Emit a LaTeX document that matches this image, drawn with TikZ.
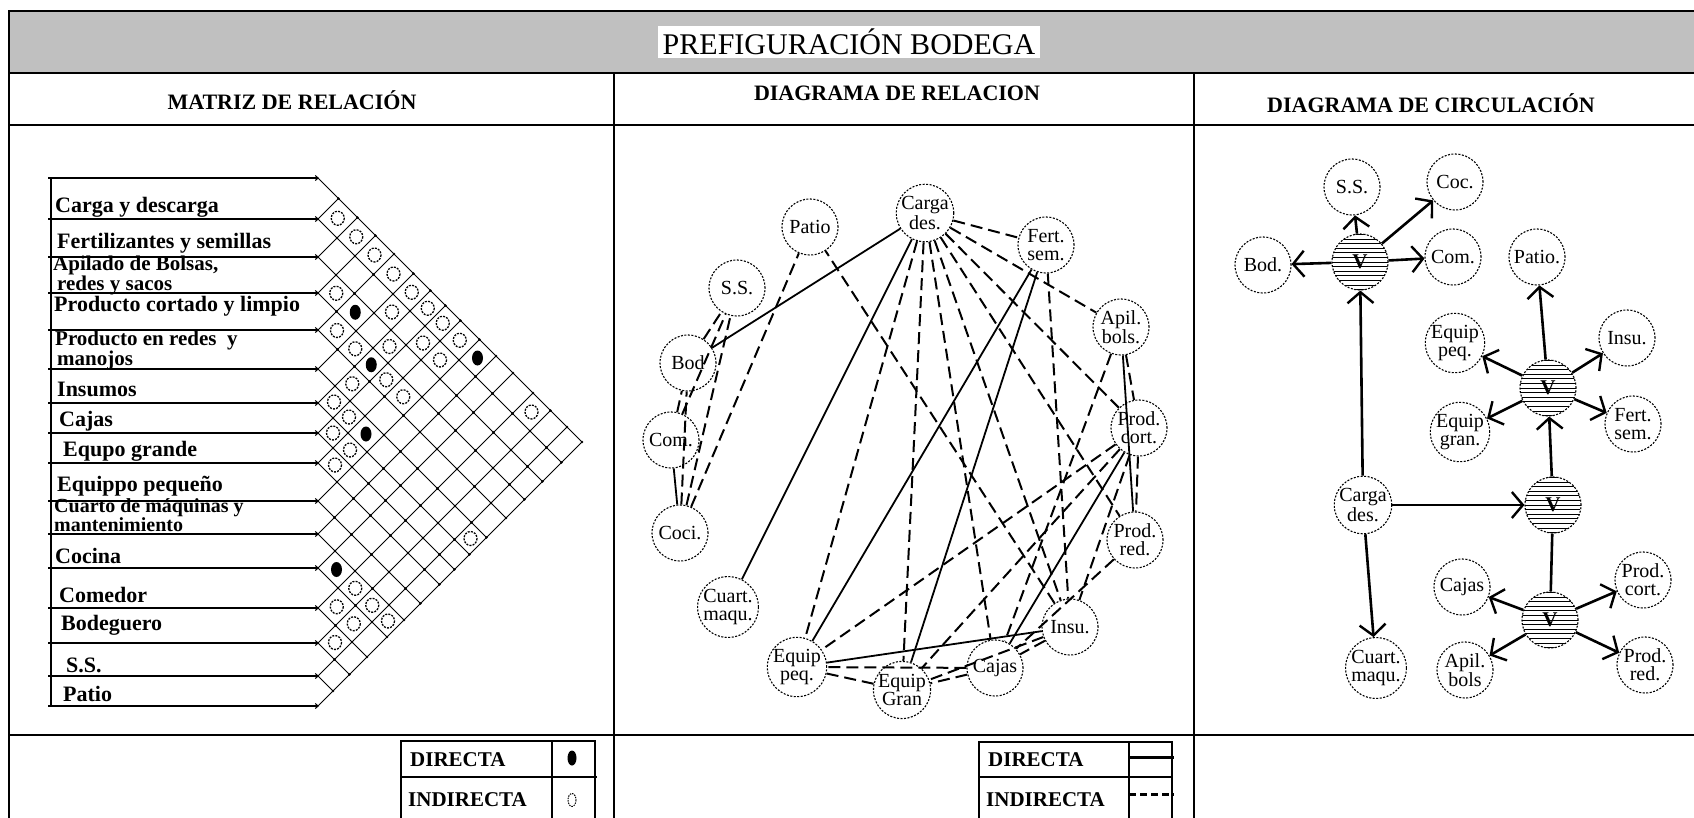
\documentclass[tikz,border=0pt]{standalone}
\usepackage{fontspec}
\setmainfont{Liberation Serif}
\usetikzlibrary{arrows.meta}
\definecolor{band}{RGB}{192,192,192}
\begin{document}
\begin{tikzpicture}[x=1pt,y=-1pt,
  frame/.style={line width=2.5pt},
  rnode/.style={circle,draw,line width=1.1pt,dash pattern=on 2pt off 1.5pt,minimum size=56pt,inner sep=0pt,align=center,font=\fontsize{20}{18}\selectfont},
  vnode/.style={circle,draw,line width=1.1pt,dash pattern=on 2pt off 1.5pt,minimum size=56pt,inner sep=0pt,font=\bfseries\fontsize{21}{21}\selectfont,
    path picture={\foreach \k in {-6,...,6}{\draw[solid,line width=0.7pt] ([yshift=\k*4.6pt]path picture bounding box.west) -- ([yshift=\k*4.6pt]path picture bounding box.east);}}},
  indir/.style={line width=2pt,dash pattern=on 12pt off 6pt},
  dir/.style={line width=1.8pt},
  flow/.style={line width=2.6pt,-{Straight Barb[length=11pt,width=26pt,line width=2.4pt]}},
  plain/.style={line width=2.6pt},
  lbl/.style={anchor=west,inner sep=0pt,font=\bfseries\fontsize{22}{17}\selectfont,text height=15pt,text depth=4pt},
  lbl2/.style={anchor=west,inner sep=0pt,align=left,font=\bfseries\fontsize{21}{16.5}\selectfont},
  head/.style={font=\bfseries\fontsize{22}{22}\selectfont,inner sep=0pt},
  leg/.style={anchor=west,inner sep=0pt,font=\bfseries\fontsize{21}{21}\selectfont},
]
\useasboundingbox (0,0) rectangle (1694,817);
% ---------- frame ----------
\fill[band] (9,11) rectangle (1694,73);
\draw[frame] (8,11) -- (1694,11);
\draw[frame] (8,73) -- (1694,73);
\draw[frame] (8,125) -- (1694,125);
\draw[frame] (8,735) -- (1694,735);
\draw[frame] (9,10) -- (9,830);
\draw[frame] (614,73) -- (614,830);
\draw[frame] (1194,73) -- (1194,830);
\node[fill=white,inner xsep=5pt,minimum height=30pt,font=\fontsize{30}{30}\selectfont] (title) at (849,42) {PREFIGURACIÓN BODEGA};
\node[head] (h1) at (292,100) {MATRIZ DE RELACIÓN};
\node[head] (h2) at (897,93) {DIAGRAMA DE RELACION};
\node[head] (h3) at (1431,103) {DIAGRAMA DE CIRCULACIÓN};

% ---------- matrix ----------
\def\Ll{{178,219,257,293,330,369,403,433,463,501,534,568,608,643,676,706}}
\def\Mm{{198.5,238,275,311.5,349.5,386,418,448,482,517.5,551,588,625.5,659.5,691}}
\draw[line width=1.4pt] (51,178) -- (51,706);
\foreach \k in {0,...,15}{
  \pgfmathsetmacro\yk{\Ll[\k]}
  \draw[line width=1.3pt,-{Straight Barb[length=3pt,width=5pt,line width=1pt]}] (48,\yk) -- (319,\yk);
  \draw[line width=0.8pt] (318,\yk) -- ({318+(706-\yk)/2},{(\yk+706)/2});
  \draw[line width=0.8pt] (318,\yk) -- ({318+(\yk-178)/2},{(\yk+178)/2});
}
\foreach \a in {0,...,14}{
  \pgfmathtruncatemacro\aa{\a+1}
  \foreach \b in {\aa,...,15}{
    \pgfmathsetmacro\ya{\Ll[\a]}
    \pgfmathsetmacro\yb{\Ll[\b]}
    \fill ({318+(\yb-\ya)/2},{(\ya+\yb)/2}) circle (1.4);
  }
}
\foreach \i/\j in {1/2,1/3,1/4,1/5,1/6,1/7,1/8,1/9,1/13,2/6,2/8,2/9,3/4,3/7,4/5,4/6,4/8,4/9,5/7,6/7,6/8,6/15,7/8,7/9,8/9,11/13,11/14,11/15,12/13,12/14,13/14}{
  \pgfmathtruncatemacro\ii{\i-1}
  \pgfmathtruncatemacro\jj{\j-1}
  \pgfmathsetmacro\mi{\Mm[\ii]}
  \pgfmathsetmacro\mj{\Mm[\jj]}
  \fill[white] ({318+(\mj-\mi)/2},{(\mi+\mj)/2}) ellipse [x radius=7, y radius=7.5];
  \draw[line width=1.3pt,dash pattern=on 2pt off 1.2pt] ({318+(\mj-\mi)/2},{(\mi+\mj)/2}) ellipse [x radius=6.5, y radius=7];
}
\foreach \i/\j in {1/10,3/5,4/7,6/9,11/12}{
  \pgfmathtruncatemacro\ii{\i-1}
  \pgfmathtruncatemacro\jj{\j-1}
  \pgfmathsetmacro\mi{\Mm[\ii]}
  \pgfmathsetmacro\mj{\Mm[\jj]}
  \fill ({318+(\mj-\mi)/2},{(\mi+\mj)/2}) ellipse [x radius=5.5, y radius=7.5];
}
\node[lbl] (r1) at (55,207) {Carga y descarga};
\node[lbl] (r2) at (57,243) {Fertilizantes y semillas};
\node[lbl2] (r3) at (53,275) {Apilado de Bolsas,\\\hspace*{4pt}redes y sacos};
\node[lbl] (r4) at (54,306) {Producto cortado y limpio};
\node[lbl2] (r5) at (55,350) {Producto en redes \ y\\\hspace*{2pt}manojos};
\node[lbl] (r6) at (57,391) {Insumos};
\node[lbl] (r7) at (59,421) {Cajas};
\node[lbl] (r8) at (63,451) {Equpo grande};
\node[lbl] (r9) at (57,486) {Equippo pequeño};
\node[lbl2,font=\bfseries\fontsize{20}{15}\selectfont] (r10) at (54,515) {Cuarto de máquinas y\\mantenimiento};
\node[lbl] (r11) at (55,558) {Cocina};
\node[lbl] (r12) at (59,597) {Comedor};
\node[lbl] (r13) at (61,625) {Bodeguero};
\node[lbl] (r14) at (66,667) {S.S.};
\node[lbl] (r15) at (63,696) {Patio};

% ---------- relation diagram ----------
\node[rnode] (cg) at (925,213) {Carga\\des.};
\node[rnode] (pa) at (810,227) {Patio};
\node[rnode] (fe) at (1046,245) {Fert.\\sem.};
\node[rnode] (ss) at (737,288) {S.S.};
\node[rnode] (ap) at (1121,327) {Apil.\\bols.};
\node[rnode] (bo) at (688,363) {Bod};
\node[rnode] (pc) at (1139,428) {Prod.\\cort.};
\node[rnode] (co) at (671,440) {Com.};
\node[rnode] (ci) at (680,533) {Coci.};
\node[rnode] (pr) at (1135,540) {Prod.\\red.};
\node[rnode] (cu) at (728,607) {Cuart.\\maqu.};
\node[rnode] (ins) at (1070,627) {Insu.};
\node[rnode] (ep) at (797,667) {Equip\\peq.};
\node[rnode] (cj) at (995,668) {Cajas};
\node[rnode] (eg) at (902,690) {Equip\\Gran};
\foreach \a/\b in {cg/fe,cg/ap,cg/pc,cg/pr,cg/ins,cg/cj,cg/eg,cg/ep,fe/ins,ap/pc,ap/cj,pc/pr,pc/ins,pc/eg,pc/ep,pr/cj,ins/cj,ins/eg,ins/pa,cj/eg,cj/ep,eg/ep,ci/bo,ci/ss,ci/pa,co/bo,co/ss,bo/ss}
  \draw[indir] (\a) -- (\b);
\foreach \a/\b in {cg/bo,cg/cu,fe/eg,fe/ep,ap/pr,pc/cj,ins/ep,co/ci}
  \draw[dir] (\a) -- (\b);

% ---------- circulation diagram ----------
\node[rnode] (qss) at (1352,187) {S.S.};
\node[rnode] (qcoc) at (1455,182) {Coc.};
\node[rnode] (qbod) at (1263,265) {Bod.};
\node[vnode] (v1) at (1360,262) {V};
\node[rnode] (qcom) at (1453,257) {Com.};
\node[rnode] (qpat) at (1537,257) {Patio.};
\node[rnode] (qep) at (1455,343) {Equip\\peq.};
\node[rnode] (qins) at (1627,338) {Insu.};
\node[vnode] (v2) at (1548,388) {V};
\node[rnode] (qeg) at (1460,432) {Equip\\gran.};
\node[rnode] (qfe) at (1633,424) {Fert.\\sem.};
\node[rnode] (qcg) at (1363,505) {Carga\\des.};
\node[vnode] (v3) at (1553,505) {V};
\node[rnode] (qcj) at (1462,587) {Cajas};
\node[rnode] (qpc) at (1643,580) {Prod.\\cort.};
\node[vnode] (v4) at (1550,620) {V};
\node[rnode] (qcu) at (1376,668) {Cuart.\\maqu.};
\node[rnode] (qap) at (1465,670) {Apil.\\bols};
\node[rnode] (qpr) at (1645,665) {Prod.\\red.};
\foreach \b in {qss,qcoc,qcom,qbod} \draw[flow] (v1) -- (\b);
\draw[flow] (qcg) -- (v1);
\draw[flow] (qcg) -- (v3);
\draw[flow] (qcg) -- (qcu);
\draw[flow] (v3) -- (v2);
\draw[plain] (v3) -- (v4);
\foreach \b in {qpat,qep,qins,qeg,qfe} \draw[flow] (v2) -- (\b);
\foreach \b in {qcj,qpc,qap,qpr} \draw[flow] (v4) -- (\b);

% ---------- legends ----------
\draw[line width=1.4pt] (401,830) -- (401,741) -- (595,741) -- (595,830);
\draw[line width=1.4pt] (401,777) -- (597,777);
\draw[line width=1.4pt] (552,741) -- (552,830);
\node[leg] (ld1) at (410,760) {DIRECTA};
\node[leg] (li1) at (408,800) {INDIRECTA};
\fill (572,758) ellipse [x radius=4.5, y radius=7.5];
\draw[line width=1pt,dash pattern=on 1.5pt off 1pt] (572,800) ellipse [x radius=4, y radius=6.5];
\draw[line width=1.4pt] (979,830) -- (979,742) -- (1172,742) -- (1172,830);
\draw[line width=1.4pt] (979,777) -- (1172,777);
\draw[line width=1.4pt] (1129,742) -- (1129,830);
\node[leg] (ld2) at (988,760) {DIRECTA};
\node[leg] (li2) at (986,800) {INDIRECTA};
\draw[line width=3pt] (1129,757) -- (1174,757);
\draw[line width=3pt,dash pattern=on 7pt off 4pt] (1129,794) -- (1174,794);
\end{tikzpicture}
\end{document}
